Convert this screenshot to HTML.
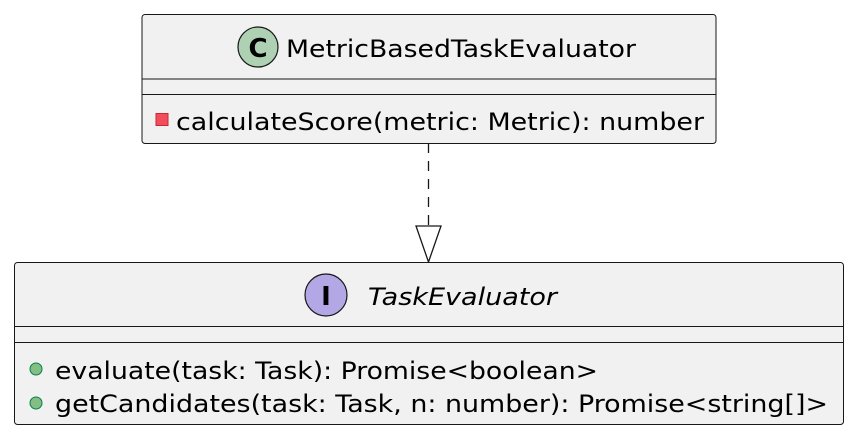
<!DOCTYPE html>
<html><head><meta charset="utf-8"><style>html,body{margin:0;padding:0;background:#fff}svg{display:block}</style></head>
<body>
<svg width="855" height="436" xmlns="http://www.w3.org/2000/svg" font-family="DejaVu Sans, Liberation Sans, sans-serif">
<rect x="142" y="14.5" width="574" height="129" rx="3" fill="#f1f1f1" stroke="#181818" stroke-width="1"/>
<line x1="142" y1="79" x2="716" y2="79" stroke="#181818"/>
<line x1="142" y1="94.5" x2="716" y2="94.5" stroke="#181818"/>
<circle cx="258" cy="47" r="20" fill="#add1b2" stroke="#181818" stroke-width="1.2"/>
<text x="258" y="57" font-size="26" font-weight="bold" text-anchor="middle" fill="#000">C</text>
<text x="286" y="57" font-size="24" textLength="350" lengthAdjust="spacingAndGlyphs" fill="#000">MetricBasedTaskEvaluator</text>
<rect x="156" y="113.5" width="12" height="12" fill="#f24d5c" stroke="#c82930" stroke-width="1"/>
<text x="176" y="130" font-size="24" textLength="528" lengthAdjust="spacingAndGlyphs" fill="#000">calculateScore(metric: Metric): number</text>

<line x1="428.5" y1="143" x2="428.5" y2="226" stroke="#181818" stroke-width="1.3" stroke-dasharray="10,8"/>
<polygon points="416,226 441,226 428.5,262" fill="none" stroke="#181818" stroke-width="1.3"/>

<rect x="14.5" y="262.5" width="829" height="162" rx="3" fill="#f1f1f1" stroke="#181818" stroke-width="1"/>
<line x1="14.5" y1="326.5" x2="843.5" y2="326.5" stroke="#181818"/>
<line x1="14.5" y1="342.5" x2="843.5" y2="342.5" stroke="#181818"/>
<circle cx="326" cy="295" r="21" fill="#b4a7e5" stroke="#181818" stroke-width="1.2"/>
<text x="326" y="305" font-size="26" font-weight="bold" text-anchor="middle" fill="#000">I</text>
<text x="368" y="305" font-size="24" font-style="italic" textLength="189" lengthAdjust="spacingAndGlyphs" fill="#000">TaskEvaluator</text>
<circle cx="36" cy="369" r="6" fill="#84be84" stroke="#038048" stroke-width="1"/>
<text x="55" y="379" font-size="24" textLength="543" lengthAdjust="spacingAndGlyphs" fill="#000">evaluate(task: Task): Promise&lt;boolean&gt;</text>
<circle cx="36" cy="403" r="6" fill="#84be84" stroke="#038048" stroke-width="1"/>
<text x="55" y="412" font-size="24" textLength="773" lengthAdjust="spacingAndGlyphs" fill="#000">getCandidates(task: Task, n: number): Promise&lt;string[]&gt;</text>
</svg>
</body></html>
